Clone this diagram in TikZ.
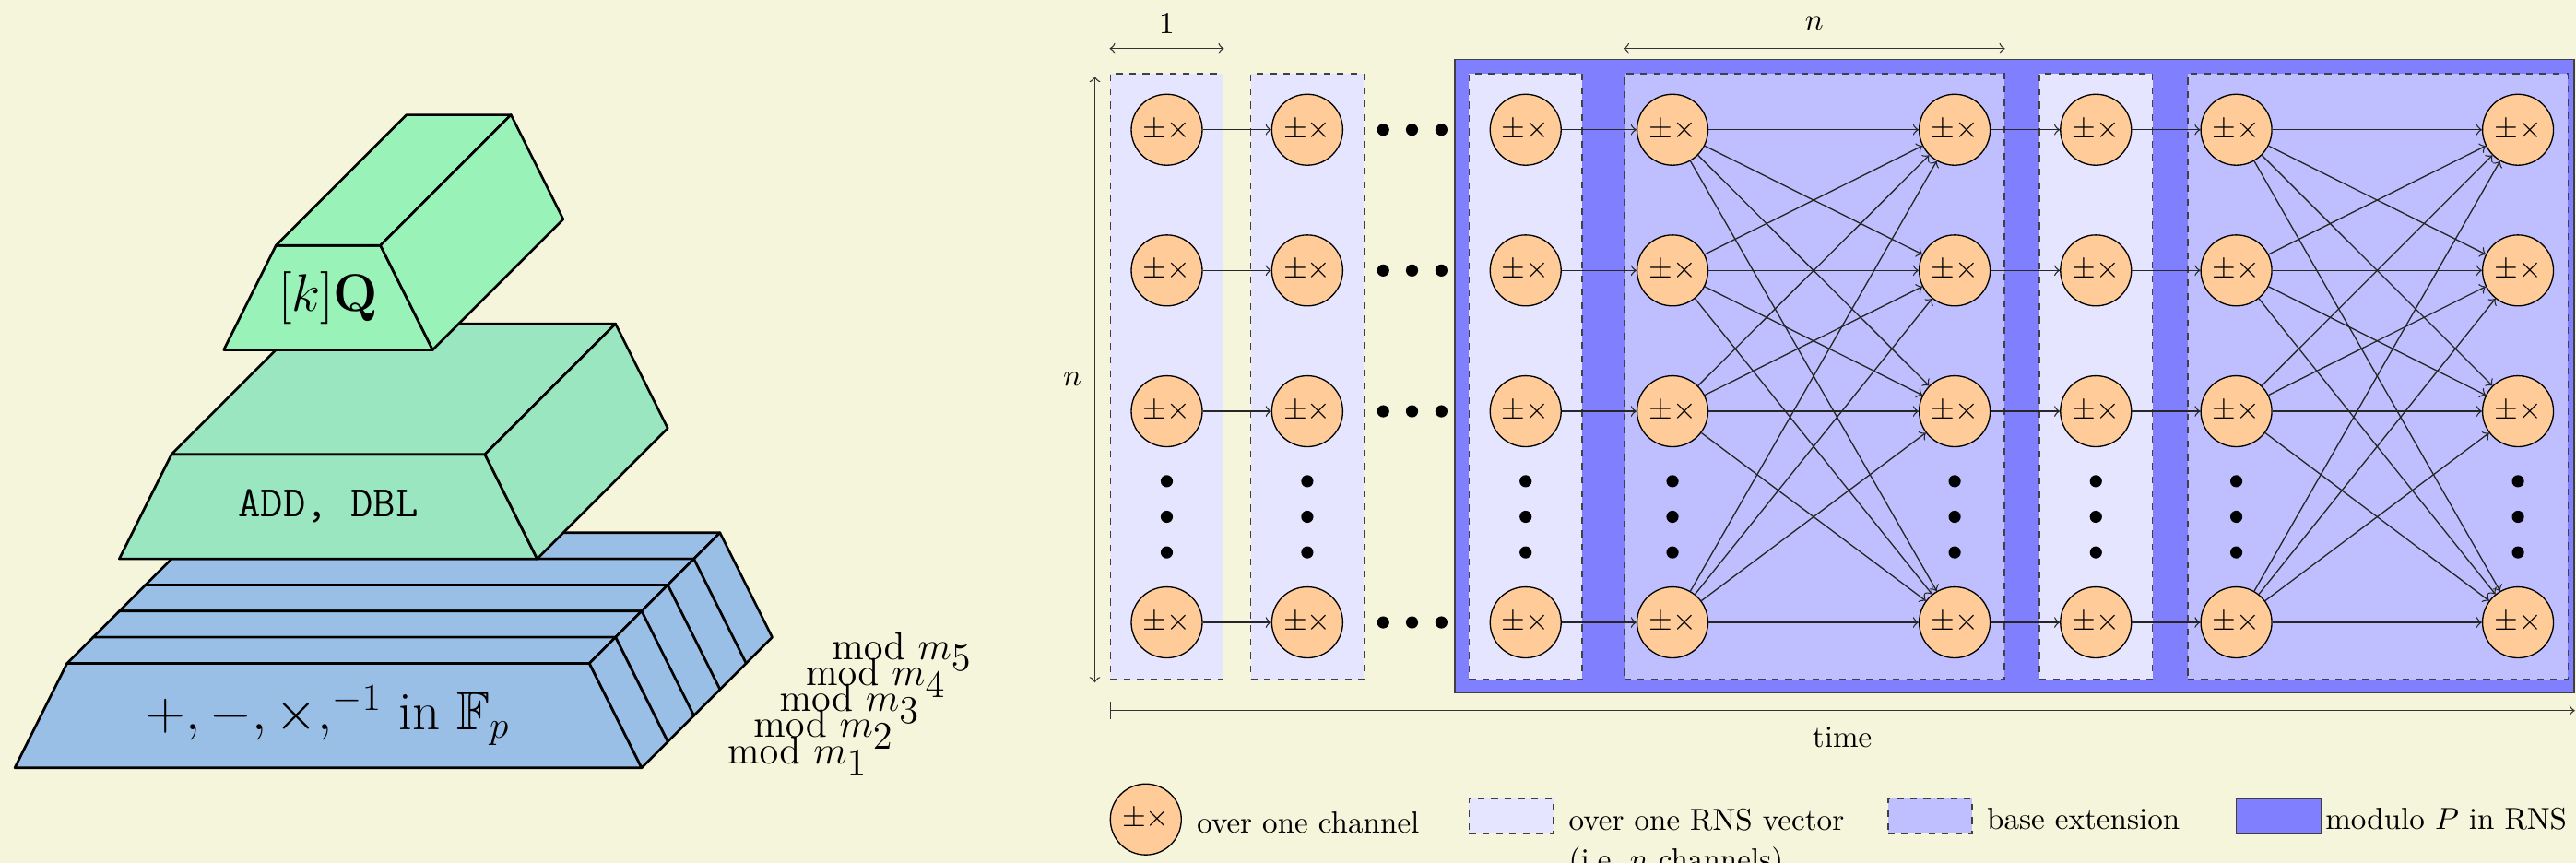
\RequirePackage{fix-cm}
\documentclass[tikz,border=0pt]{standalone}
\usepackage[]{amsmath}
\usepackage[]{amssymb}
\usepackage{tikz}
\usetikzlibrary{positioning}
\definecolor{paper}{RGB}{245,245,220}
\definecolor{fpblue}{RGB}{153,191,230}
\definecolor{ecgreen}{RGB}{153,230,193}
\definecolor{kqgreen}{RGB}{153,242,184}

\begin{document}
\begin{tikzpicture}[
opnode/.style={circle, draw, fill=orange!40, minimum size=0.817cm, inner sep=0pt},
vecbox/.style={rectangle, draw=black!75, dash pattern=on 2.2pt off 2.2pt,
fill=blue!10, minimum width=1.302cm, minimum height=6.972cm},
extbox/.style={rectangle, draw=black!75, dash pattern=on 2.2pt off 2.2pt,
fill=blue!25, minimum width=4.377cm, minimum height=6.972cm},
modbox/.style={rectangle, draw=black!75, fill=blue!50},
chanarr/.style={->, draw=black!85},
dimarr/.style={<->, draw=black!80},
facet/.style={draw=black, thick, line join=round},
modlbl/.style={anchor=base west, inner sep=0pt, font=\fontsize{12.8}{15}\selectfont},
bigfont/.style={font=\LARGE},
lgtext/.style={text height=1.5ex, text depth=.25ex, yshift=-0.06cm}]

\useasboundingbox (0,0) rectangle (29.660,-9.936);
\fill[paper] (0,0) rectangle (29.660,-9.936);

% modular reduction area and channel groups
\node[modbox, minimum width=12.887cm, minimum height=7.287cm] (modP) at (23.196,-4.329) {};
\node[vecbox] (vec1) at (13.434,-4.335) {};
\node[vecbox] (vec2) at (15.052,-4.335) {};
\node[vecbox] (vec3) at (17.566,-4.335) {};
\node[vecbox] (vec4) at (24.132,-4.335) {};
\node[extbox] (ext1) at (20.889,-4.335) {};
\node[extbox] (ext2) at (27.378,-4.335) {};

% dots
\foreach \x in {13.434,15.052,17.566,19.257,22.506,24.132,25.749,28.992}
  \foreach \y in {-5.540,-5.950,-6.360}
    \fill (\x,\y) circle (0.07);
\foreach \y in {-1.494,-3.114,-4.735,-7.166}
  \foreach \x in {15.926,16.258,16.596}
    \fill (\x,\y) circle (0.07);

% channel operations
\foreach \c/\x in {1/13.434,2/15.052,3/17.566,4/19.257,5/22.506,6/24.132,7/25.749,8/28.992}
  \foreach \r/\y in {1/-1.494,2/-3.114,3/-4.735,4/-7.166}
    \node[opnode] (op-\c-\r) at (\x,\y) {$\pm\times$};

\foreach \r in {1,...,4} {
  \draw[chanarr] (op-1-\r) -- (op-2-\r);
  \draw[chanarr] (op-3-\r) -- (op-4-\r);
  \draw[chanarr] (op-5-\r) -- (op-6-\r);
  \draw[chanarr] (op-6-\r) -- (op-7-\r);
  \foreach \s in {1,...,4} {
    \draw[chanarr] (op-4-\r) -- (op-5-\s);
    \draw[chanarr] (op-7-\r) -- (op-8-\s);
  }
}

% sizes and time
\draw[dimarr] ([yshift=0.283cm]vec1.north west) -- node[yshift=0.29cm] {$1$} ([yshift=0.283cm]vec1.north east);
\draw[dimarr] ([yshift=0.283cm]ext1.north west) -- node[yshift=0.29cm] {$n$} ([yshift=0.283cm]ext1.north east);
\draw[dimarr] ([xshift=-0.17cm,yshift=-0.04cm]vec1.north west) -- node[xshift=-0.26cm] {$n$} ([xshift=-0.17cm,yshift=-0.03cm]vec1.south west);
\coordinate (t0) at ([yshift=-0.353cm]vec1.south west);
\draw[|->, draw=black!80] (t0) -- node[below=2pt] {time} (t0 -| modP.east);

% legend
\node[opnode] (lgop) at (13.193,-9.434) {$\pm\times$};
\node[lgtext, right=0.05cm of lgop] (lgoptxt) {over one channel};
\node[vecbox, minimum width=0.968cm, minimum height=0.407cm] (lgvec) at (17.399,-9.397) {};
\node[anchor=north west, align=left, xshift=0.05cm] (lgvectxt) at (lgvec.north east) {over one RNS vector\\[1pt](i.e.\ $n$ channels)};
\node[extbox, minimum width=0.968cm, minimum height=0.407cm] (lgext) at (22.223,-9.397) {};
\node[lgtext, right=0.04cm of lgext] (lgexttxt) {base extension};
\node[modbox, minimum width=0.98cm, minimum height=0.407cm] (lgmod) at (26.24,-9.397) {};
\node[lgtext, right=-0.085cm of lgmod] (lgmodtxt) {modulo $P$ in RNS};

% layers: field, curve, scalar multiplication
\begin{scope}[shift={(3.779,-8.840)}, x=1.2028cm, y=1.2028cm]
\foreach \k in {4,...,0} {
  \begin{scope}[shift={(0.25*\k,0.25*\k)}]
    \filldraw[facet, fill=fpblue] (-3,0) -- (3,0) -- (2.5,1) -- (-2.5,1) -- cycle;
    \filldraw[facet, fill=fpblue] (-2.5,1) -- (2.5,1) -- (2.75,1.25) -- (-2.25,1.25) -- cycle;
    \filldraw[facet, fill=fpblue] (2.5,1) -- (3,0) -- (3.25,0.25) -- (2.75,1.25) -- cycle;
  \end{scope}
}
\node[font=\fontsize{17.8}{21}\selectfont] (field) at (0,0.5) {$+,-,\times,^{-1}$ in $\mathbb{F}_p$};
\foreach \k in {1,...,5}
  \node[modlbl] (mod\k) at ({3.816+0.25*(\k-1)},{0.039+0.25*(\k-1)}) {$\mathrm{mod}\ m_{\textstyle\k}$};

\filldraw[facet, fill=ecgreen] (-2,2) -- (2,2) -- (1.5,3) -- (-1.5,3) -- cycle;
\filldraw[facet, fill=ecgreen] (-1.5,3) -- (1.5,3) -- (2.75,4.25) -- (-0.25,4.25) -- cycle;
\filldraw[facet, fill=ecgreen] (1.5,3) -- (2,2) -- (3.25,3.25) -- (2.75,4.25) -- cycle;
\node[font=\fontsize{14.3}{17}\selectfont\ttfamily] (curve) at (0,2.5) {ADD, DBL};

\filldraw[facet, fill=kqgreen] (-1,4) -- (1,4) -- (0.5,5) -- (-0.5,5) -- cycle;
\filldraw[facet, fill=kqgreen] (-0.5,5) -- (0.5,5) -- (1.75,6.25) -- (0.75,6.25) -- cycle;
\filldraw[facet, fill=kqgreen] (0.5,5) -- (1,4) -- (2.25,5.25) -- (1.75,6.25) -- cycle;
\node[bigfont] (smul) at (0,4.5) {$[k]\mathbf{Q}$};
\end{scope}

\end{tikzpicture}
\end{document}
